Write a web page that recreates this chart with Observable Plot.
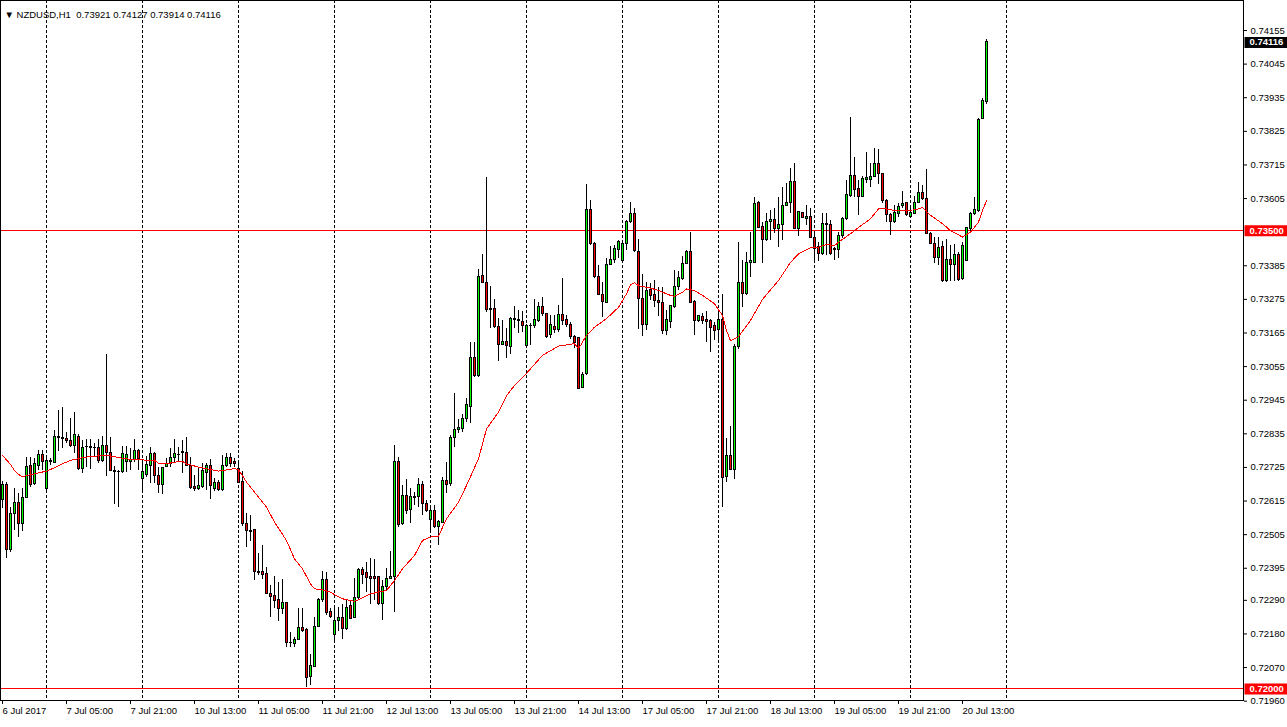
<!DOCTYPE html>
<html>
<head>
<meta charset="utf-8">
<script src="https://cdn.jsdelivr.net/npm/d3@7"></script>
<script src="https://cdn.jsdelivr.net/npm/@observablehq/plot@0.6"></script>
<style>
  html, body { margin: 0; padding: 0; background: #fff; }
  svg text { white-space: pre; }
</style>
</head>
<body>
<div id="chart"></div>
<script>
const symbolName = "NZDUSD";
const timeframe = "H1";

// Hourly candles, bar 0 = 6 Jul 2017 13:00 ... bar 246 = 20 Jul 2017 19:00
const open = [
0.72617,0.72669,0.72455,0.72571,0.72609,0.72541,0.72626,0.72730,0.72671,0.72730,
0.72766,0.72655,0.72745,0.72739,0.72824,0.72822,0.72819,0.72813,0.72794,0.72826,
0.72721,0.72791,0.72791,0.72789,0.72789,0.72745,0.72794,0.72772,0.72712,0.72710,
0.72710,0.72742,0.72742,0.72748,0.72780,0.72688,0.72701,0.72731,0.72770,0.72698,
0.72666,0.72728,0.72735,0.72756,0.72766,0.72772,0.72772,0.72731,0.72660,0.72655,
0.72660,0.72708,0.72731,0.72655,0.72673,0.72650,0.72731,0.72757,0.72742,0.72721,
0.72677,0.72541,0.72516,0.72519,0.72382,0.72383,0.72375,0.72311,0.72303,0.72290,
0.72262,0.72282,0.72152,0.72148,0.72161,0.72200,0.72193,0.72039,0.72071,0.72204,
0.72290,0.72355,0.72251,0.72175,0.72224,0.72232,0.72197,0.72270,0.72232,0.72299,
0.72388,0.72379,0.72368,0.72368,0.72366,0.72278,0.72333,0.72361,0.72366,0.72742,
0.72541,0.72633,0.72586,0.72628,0.72628,0.72666,0.72604,0.72553,0.72584,0.72531,
0.72544,0.72679,0.72671,0.72821,0.72846,0.72851,0.72882,0.72922,0.73082,0.73024,
0.73353,0.73329,0.73244,0.73242,0.73184,0.73127,0.73137,0.73119,0.73212,0.73208,
0.73202,0.73122,0.73189,0.73189,0.73203,0.73251,0.73228,0.73157,0.73186,0.73175,
0.73224,0.73206,0.73192,0.73151,0.73148,0.72984,0.73032,0.73566,0.73457,0.73348,
0.73290,0.73264,0.73388,0.73405,0.73438,0.73399,0.73457,0.73528,0.73555,0.73429,
0.73277,0.73192,0.73307,0.73288,0.73271,0.73264,0.73170,0.73202,0.73249,0.73317,
0.73342,0.73392,0.73430,0.73266,0.73203,0.73217,0.73206,0.73203,0.73187,0.73176,
0.73206,0.72693,0.72764,0.72718,0.73119,0.73328,0.73291,0.73393,0.73393,0.73590,
0.73511,0.73468,0.73528,0.73536,0.73506,0.73517,0.73581,0.73592,0.73659,0.73506,
0.73557,0.73539,0.73546,0.73477,0.73446,0.73422,0.73522,0.73520,0.73441,0.73437,
0.73481,0.73539,0.73612,0.73678,0.73637,0.73610,0.73666,0.73666,0.73677,0.73717,
0.73684,0.73596,0.73550,0.73528,0.73555,0.73582,0.73590,0.73546,0.73555,0.73590,
0.73623,0.73604,0.73490,0.73457,0.73411,0.73448,0.73335,0.73405,0.73389,0.73419,
0.73342,0.73402,0.73506,0.73553,0.73564,0.73866,0.73921];

const high = [
0.72679,0.72676,0.72595,0.72655,0.72639,0.72655,0.72757,0.72757,0.72753,0.72780,
0.72780,0.72759,0.72754,0.72846,0.72911,0.72922,0.72840,0.72884,0.72906,0.72833,
0.72813,0.72816,0.72816,0.72802,0.72816,0.72826,0.73095,0.72824,0.72728,0.72715,
0.72794,0.72794,0.72787,0.72816,0.72783,0.72742,0.72760,0.72791,0.72775,0.72726,
0.72726,0.72753,0.72786,0.72816,0.72791,0.72813,0.72824,0.72759,0.72698,0.72726,
0.72739,0.72737,0.72750,0.72688,0.72682,0.72764,0.72770,0.72770,0.72753,0.72742,
0.72713,0.72575,0.72567,0.72522,0.72443,0.72469,0.72399,0.72338,0.72368,0.72349,
0.72357,0.72284,0.72186,0.72169,0.72262,0.72262,0.72197,0.72113,0.72235,0.72295,
0.72385,0.72382,0.72262,0.72267,0.72267,0.72278,0.72292,0.72290,0.72360,0.72393,
0.72396,0.72415,0.72426,0.72423,0.72368,0.72355,0.72393,0.72451,0.72797,0.72757,
0.72666,0.72684,0.72655,0.72643,0.72688,0.72680,0.72617,0.72595,0.72600,0.72551,
0.72693,0.72742,0.72830,0.72966,0.72882,0.72897,0.72950,0.73135,0.73135,0.73373,
0.73421,0.73675,0.73318,0.73275,0.73213,0.73206,0.73179,0.73215,0.73253,0.73239,
0.73235,0.73192,0.73195,0.73275,0.73266,0.73281,0.73230,0.73222,0.73222,0.73255,
0.73342,0.73222,0.73200,0.73157,0.73151,0.73037,0.73650,0.73599,0.73462,0.73386,
0.73331,0.73408,0.73449,0.73451,0.73468,0.73468,0.73533,0.73593,0.73573,0.73471,
0.73356,0.73329,0.73326,0.73337,0.73315,0.73315,0.73239,0.73255,0.73370,0.73366,
0.73415,0.73435,0.73493,0.73271,0.73222,0.73228,0.73235,0.73209,0.73200,0.73228,
0.73290,0.72819,0.72860,0.73127,0.73462,0.73402,0.73430,0.73495,0.73608,0.73596,
0.73528,0.73557,0.73566,0.73571,0.73608,0.73640,0.73653,0.73702,0.73721,0.73564,
0.73560,0.73582,0.73571,0.73490,0.73462,0.73557,0.73555,0.73533,0.73446,0.73495,
0.73544,0.73664,0.73869,0.73740,0.73664,0.73677,0.73757,0.73721,0.73768,0.73765,
0.73684,0.73601,0.73555,0.73582,0.73588,0.73629,0.73593,0.73571,0.73612,0.73659,
0.73648,0.73699,0.73495,0.73477,0.73477,0.73466,0.73470,0.73451,0.73455,0.73430,
0.73462,0.73511,0.73560,0.73610,0.73866,0.73932,0.74127];

const low = [
0.72591,0.72426,0.72448,0.72519,0.72495,0.72516,0.72626,0.72660,0.72666,0.72715,
0.72715,0.72650,0.72731,0.72739,0.72778,0.72786,0.72802,0.72789,0.72770,0.72715,
0.72704,0.72726,0.72718,0.72757,0.72737,0.72741,0.72695,0.72712,0.72604,0.72595,
0.72706,0.72708,0.72715,0.72742,0.72715,0.72641,0.72693,0.72673,0.72673,0.72639,
0.72637,0.72726,0.72726,0.72742,0.72742,0.72704,0.72731,0.72652,0.72646,0.72650,
0.72657,0.72650,0.72619,0.72646,0.72647,0.72647,0.72726,0.72726,0.72726,0.72671,
0.72531,0.72462,0.72484,0.72355,0.72372,0.72357,0.72309,0.72234,0.72262,0.72222,
0.72243,0.72137,0.72135,0.72135,0.72159,0.72186,0.72006,0.72011,0.72069,0.72202,
0.72284,0.72240,0.72230,0.72159,0.72189,0.72161,0.72191,0.72226,0.72230,0.72292,
0.72342,0.72317,0.72276,0.72290,0.72273,0.72224,0.72320,0.72357,0.72251,0.72527,
0.72535,0.72571,0.72543,0.72600,0.72595,0.72567,0.72578,0.72508,0.72524,0.72469,
0.72541,0.72639,0.72664,0.72791,0.72835,0.72840,0.72871,0.72868,0.73020,0.73020,
0.73326,0.73233,0.73180,0.73181,0.73072,0.73124,0.73082,0.73094,0.73179,0.73162,
0.73168,0.73113,0.73124,0.73180,0.73200,0.73220,0.73148,0.73146,0.73162,0.73168,
0.73190,0.73184,0.73144,0.73113,0.72980,0.72982,0.73026,0.73451,0.73342,0.73288,
0.73217,0.73261,0.73386,0.73392,0.73408,0.73397,0.73435,0.73524,0.73427,0.73177,
0.73155,0.73173,0.73271,0.73249,0.73220,0.73159,0.73157,0.73181,0.73246,0.73304,
0.73337,0.73388,0.73261,0.73157,0.73200,0.73192,0.73135,0.73102,0.73140,0.73137,
0.72595,0.72677,0.72715,0.72686,0.73111,0.73249,0.73288,0.73348,0.73391,0.73506,
0.73392,0.73465,0.73468,0.73490,0.73446,0.73468,0.73578,0.73555,0.73503,0.73481,
0.73539,0.73517,0.73473,0.73402,0.73400,0.73419,0.73419,0.73419,0.73402,0.73408,
0.73473,0.73533,0.73610,0.73608,0.73550,0.73608,0.73655,0.73642,0.73675,0.73651,
0.73590,0.73528,0.73484,0.73524,0.73542,0.73571,0.73546,0.73539,0.73553,0.73588,
0.73599,0.73487,0.73455,0.73392,0.73386,0.73331,0.73331,0.73335,0.73335,0.73335,
0.73337,0.73400,0.73490,0.73550,0.73560,0.73863,0.73914];

const close = [
0.72669,0.72455,0.72571,0.72609,0.72541,0.72626,0.72728,0.72666,0.72735,0.72766,
0.72742,0.72745,0.72744,0.72826,0.72822,0.72818,0.72811,0.72794,0.72830,0.72721,
0.72789,0.72792,0.72790,0.72788,0.72745,0.72794,0.72772,0.72713,0.72709,0.72709,
0.72770,0.72766,0.72748,0.72780,0.72753,0.72709,0.72734,0.72770,0.72698,0.72666,
0.72724,0.72737,0.72757,0.72770,0.72767,0.72774,0.72731,0.72657,0.72655,0.72663,
0.72713,0.72731,0.72663,0.72673,0.72650,0.72731,0.72757,0.72735,0.72737,0.72674,
0.72541,0.72516,0.72515,0.72382,0.72379,0.72372,0.72311,0.72300,0.72287,0.72262,
0.72282,0.72150,0.72151,0.72161,0.72200,0.72191,0.72036,0.72074,0.72204,0.72292,
0.72357,0.72248,0.72235,0.72224,0.72232,0.72197,0.72266,0.72230,0.72299,0.72388,
0.72372,0.72364,0.72360,0.72359,0.72278,0.72335,0.72360,0.72366,0.72742,0.72535,
0.72633,0.72584,0.72628,0.72626,0.72666,0.72604,0.72584,0.72584,0.72529,0.72546,
0.72679,0.72668,0.72821,0.72846,0.72853,0.72882,0.72928,0.73082,0.73024,0.73348,
0.73329,0.73239,0.73239,0.73184,0.73127,0.73137,0.73122,0.73212,0.73209,0.73204,
0.73187,0.73187,0.73188,0.73206,0.73251,0.73228,0.73151,0.73190,0.73175,0.73224,
0.73203,0.73192,0.73151,0.73133,0.72982,0.73028,0.73566,0.73457,0.73348,0.73290,
0.73266,0.73388,0.73405,0.73441,0.73462,0.73457,0.73528,0.73555,0.73432,0.73275,
0.73192,0.73304,0.73286,0.73271,0.73264,0.73170,0.73206,0.73253,0.73317,0.73344,
0.73392,0.73430,0.73264,0.73203,0.73220,0.73203,0.73200,0.73181,0.73173,0.73206,
0.72690,0.72764,0.72718,0.73119,0.73329,0.73291,0.73393,0.73400,0.73588,0.73509,
0.73468,0.73528,0.73536,0.73506,0.73517,0.73581,0.73592,0.73659,0.73506,0.73560,
0.73542,0.73546,0.73477,0.73441,0.73422,0.73522,0.73517,0.73422,0.73435,0.73481,
0.73539,0.73615,0.73678,0.73634,0.73610,0.73670,0.73673,0.73677,0.73719,0.73684,
0.73596,0.73550,0.73528,0.73557,0.73577,0.73586,0.73550,0.73557,0.73590,0.73623,
0.73604,0.73490,0.73457,0.73411,0.73444,0.73335,0.73405,0.73389,0.73419,0.73339,
0.73451,0.73509,0.73553,0.73566,0.73863,0.73924,0.74116];

// Moving average (red line), read at these bar indices
const maBar = [0,2,3,4,5,6,8,11,13,15,17,19,21,24,27,29,31,34,38,39,41,43,45,46,49,51,54,55,58,59,
61,63,66,68,71,73,75,77,78,80,82,83,85,88,89,92,94,96,98,100,103,105,107,109,111,114,116,119,121,124,
126,128,131,135,139,143,144,146,148,151,154,156,157,158,159,162,164,167,168,170,171,173,175,178,180,181,182,184,187,190,
194,197,199,202,204,206,208,209,212,213,214,217,219,221,223,226,228,230,232,235,237,240,242,244,245,246];
const maValue = [
0.72764,0.72735,0.72715,0.72702,0.72695,0.72698,0.72704,0.72713,0.72724,0.72737,
0.72748,0.72754,0.72759,0.72763,0.72763,0.72757,0.72753,0.72750,0.72748,0.72739,
0.72737,0.72742,0.72745,0.72737,0.72726,0.72721,0.72713,0.72715,0.72721,0.72718,
0.72677,0.72644,0.72595,0.72546,0.72486,0.72426,0.72393,0.72344,0.72328,0.72324,
0.72317,0.72309,0.72295,0.72287,0.72292,0.72311,0.72317,0.72322,0.72355,0.72393,
0.72437,0.72486,0.72497,0.72500,0.72557,0.72611,0.72666,0.72753,0.72851,0.72906,
0.72960,0.72993,0.73033,0.73092,0.73122,0.73130,0.73113,0.73157,0.73184,0.73212,
0.73249,0.73293,0.73323,0.73329,0.73320,0.73312,0.73304,0.73288,0.73285,0.73298,
0.73309,0.73304,0.73288,0.73261,0.73222,0.73173,0.73140,0.73153,0.73206,0.73275,
0.73337,0.73396,0.73424,0.73444,0.73446,0.73455,0.73451,0.73462,0.73490,0.73500,
0.73510,0.73539,0.73571,0.73571,0.73566,0.73566,0.73568,0.73575,0.73550,0.73523,
0.73500,0.73479,0.73495,0.73528,0.73566,0.73597];

const daySeparatorBars = [11,35,59,83,107,131,155,179,203,227,251];
const timeTickBars = [0,16,32,48,64,80,96,112,128,144,160,176,192,208,224,240];
const timeTickLabels = ["6 Jul 2017","7 Jul 05:00","7 Jul 21:00","10 Jul 13:00","11 Jul 05:00","11 Jul 21:00",
  "12 Jul 13:00","13 Jul 05:00","13 Jul 21:00","14 Jul 13:00","17 Jul 05:00","17 Jul 21:00",
  "18 Jul 13:00","19 Jul 05:00","19 Jul 21:00","20 Jul 13:00"];
const priceTicks = [0.74155,0.74045,0.73935,0.73825,0.73715,0.73605,0.73385,0.73275,0.73165,0.73055,
  0.72945,0.72835,0.72725,0.72615,0.72505,0.72395,0.72290,0.72180,0.72070,0.71960];
const levelLines = [0.73500, 0.72000];

const bullColor = "#00ff00";
const bearColor = "#ff0000";

const bars = open.map((o, i) => ({i, o, h: high[i], l: low[i], c: close[i]}));
const last = bars[bars.length - 1];
const ma = maBar.map((b, j) => ({b, v: maValue[j]}));
const tags = [
  {p: last.c, bg: "#000000"},
  {p: levelLines[0], bg: "#ff0000"},
  {p: levelLines[1], bg: "#ff0000"}
];
const titleText = `▼ ${symbolName},${timeframe}  ${last.o.toFixed(5)} ${last.h.toFixed(5)} ${last.l.toFixed(5)} ${last.c.toFixed(5)}`;

const tagShape = {
  draw(ctx) {
    ctx.moveTo(1, -5.5); ctx.lineTo(45, -5.5); ctx.lineTo(45, 5.5); ctx.lineTo(1, 5.5); ctx.closePath();
  }
};

const chart = Plot.plot({
  width: 1287,
  height: 727,
  marginLeft: 0,
  marginRight: 44,
  marginTop: 0,
  marginBottom: 27,
  style: {
    fontFamily: "'Liberation Sans', Arial, sans-serif",
    fontSize: "9.5px",
    background: "#ffffff",
    color: "#000000",
    overflow: "visible"
  },
  x: {domain: [-0.5, 310.25]},
  y: {domain: [0.719622, 0.742532]},
  color: {type: "identity"},
  marks: [
    Plot.ruleX(daySeparatorBars, {stroke: "#000000", strokeDasharray: "3,2", shapeRendering: "crispEdges"}),
    Plot.ruleY(levelLines, {stroke: "#ff0000", shapeRendering: "crispEdges"}),
    Plot.ruleX(bars, {x: "i", y1: "l", y2: "h", stroke: "#000000", shapeRendering: "crispEdges"}),
    Plot.rect(bars, {
      x1: d => d.i - 0.25, x2: d => d.i + 0.25, y1: "o", y2: "c", dx: 0.5,
      fill: d => d.c > d.o ? bullColor : d.c < d.o ? bearColor : "#000000",
      stroke: "#000000", strokeWidth: 1, shapeRendering: "crispEdges"
    }),
    Plot.line(ma, {x: "b", y: "v", stroke: "#ff0000", strokeWidth: 1, shapeRendering: "crispEdges"}),
    Plot.frame({stroke: "#000000", shapeRendering: "crispEdges"}),
    Plot.axisY({anchor: "right", ticks: priceTicks, tickFormat: d => d.toFixed(5), tickSize: 3, tickPadding: 4}),
    Plot.axisX({anchor: "bottom", ticks: timeTickBars, tickFormat: (d, i) => timeTickLabels[i],
      tickSize: 4, tickPadding: 3, textAnchor: "start"}),
    Plot.dot(tags, {y: "p", frameAnchor: "right", symbol: tagShape, fill: "bg", stroke: null}),
    Plot.text(tags, {y: "p", text: d => d.p.toFixed(5), frameAnchor: "right", dx: 6, textAnchor: "start",
      fill: "#ffffff", fontWeight: "bold"}),
    Plot.text([titleText], {text: d => d, frameAnchor: "top-left", dx: 4, dy: 11, textAnchor: "start", fill: "#000000"})
  ]
});

document.getElementById("chart").appendChild(chart);
</script>
</body>
</html>
